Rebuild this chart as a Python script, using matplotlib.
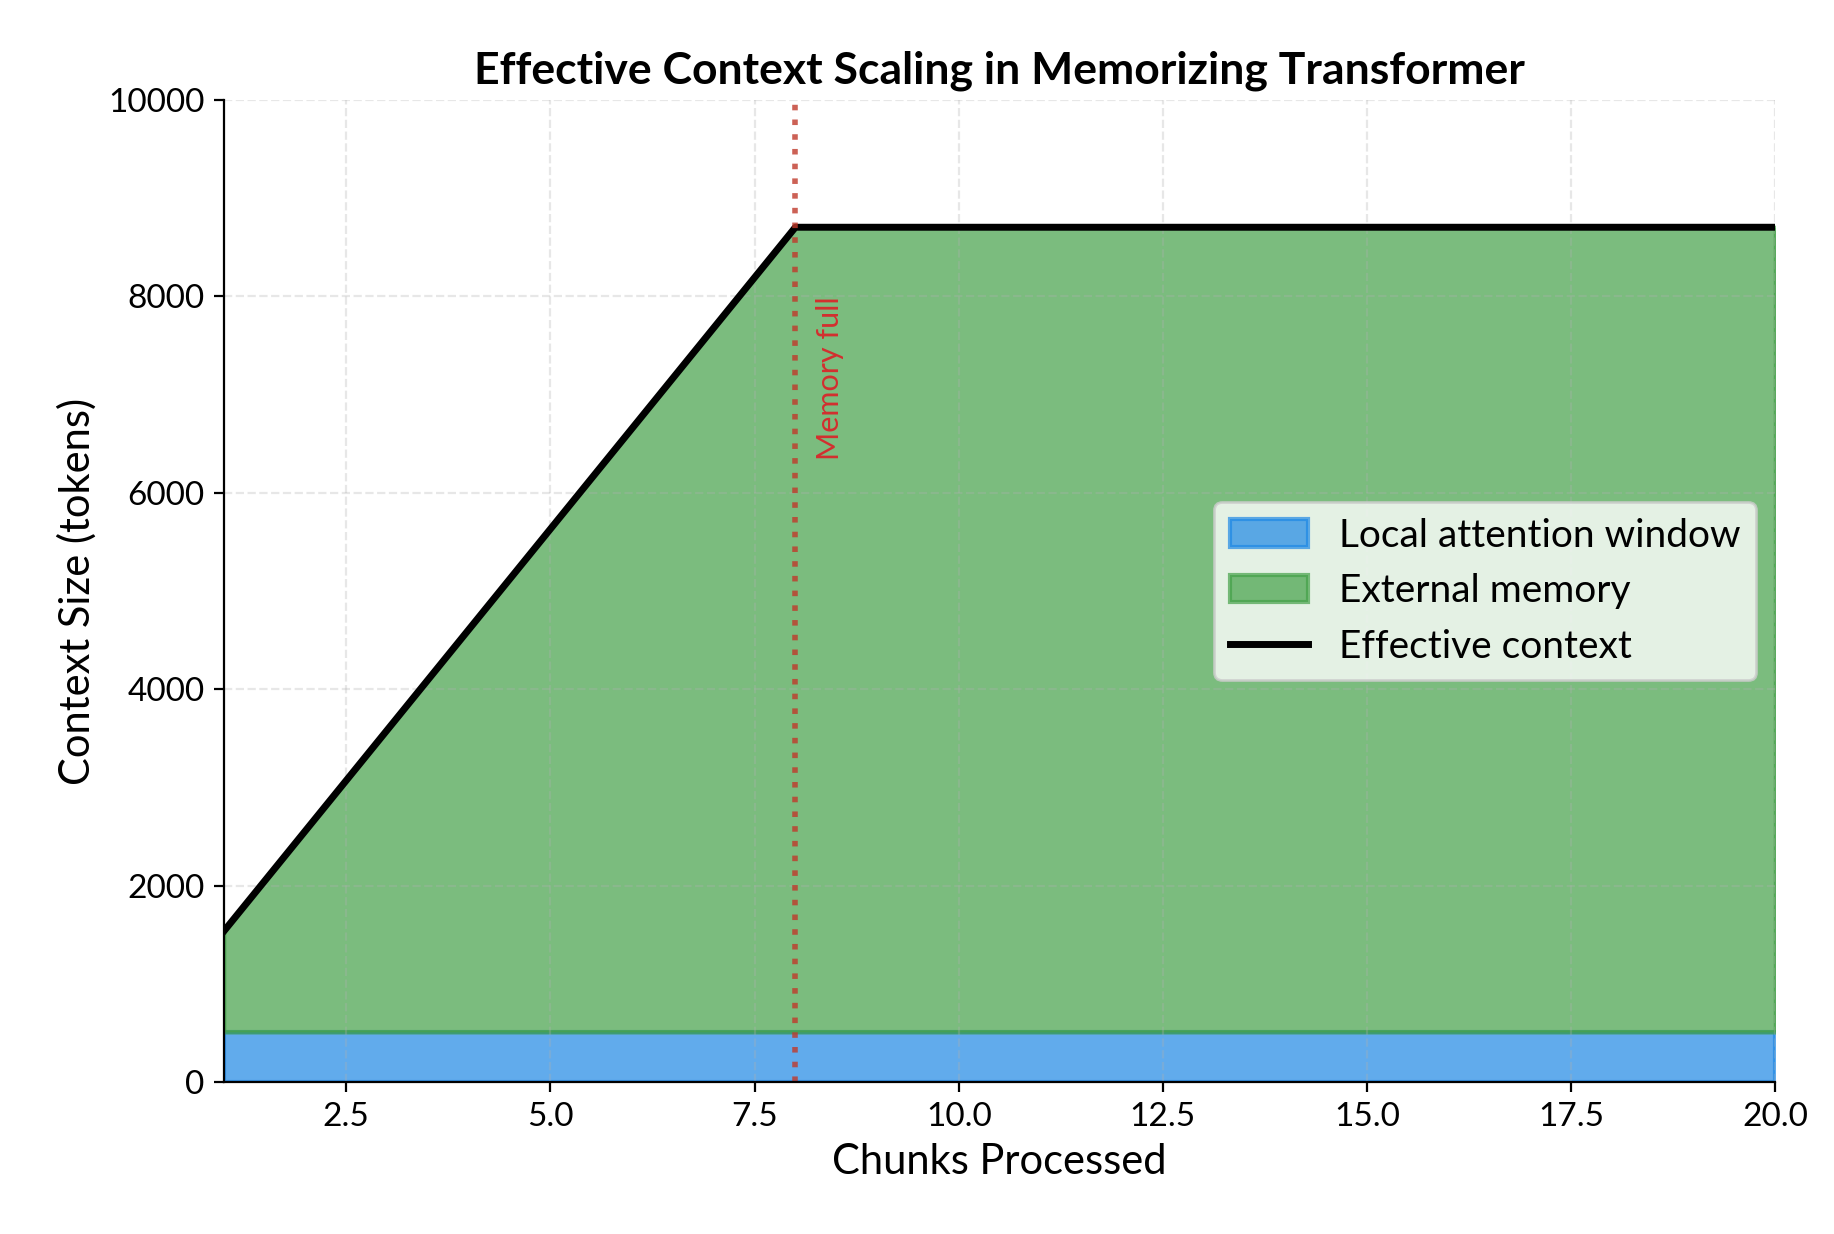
import matplotlib
matplotlib.use("Agg")
import matplotlib.pyplot as plt

chunks = [1, 2, 3, 4, 5, 6, 7, 8, 9, 10, 11, 12, 13, 14, 15, 16, 17, 18, 19, 20]
local_window = [512] * 20
memory = [1024, 2048, 3072, 4096, 5120, 6144, 7168, 8192, 8192, 8192, 8192, 8192,
          8192, 8192, 8192, 8192, 8192, 8192, 8192, 8192]
effective = [l + m for l, m in zip(local_window, memory)]
memory_full_x = 8

plt.rcParams['font.family'] = ['Lato', 'DejaVu Sans']
fig, ax = plt.subplots(figsize=(9.17, 6.17), dpi=200)
fig.subplots_adjust(left=0.122, right=0.968, top=0.919, bottom=0.123)

ax.fill_between(chunks, 0, local_window, color='#1e88e5', alpha=0.7,
                edgecolor='#1e88e5', linewidth=1.5, label='Local attention window')
ax.fill_between(chunks, local_window, effective, color='#43a047', alpha=0.7,
                edgecolor='#43a047', linewidth=1.5, label='External memory')
ax.plot(chunks, effective, color='black', linewidth=2.5, label='Effective context')
ax.axvline(memory_full_x, color='#c0392b', linestyle=':', linewidth=2, alpha=0.8)
ax.text(memory_full_x + 0.25, 8000, 'Memory full', rotation=90, color='#d32f2f',
        fontsize=11, va='top', ha='left')

ax.set_xlim(1, 20)
ax.set_ylim(0, 10000)
ax.set_xlabel('Chunks Processed', fontsize=15)
ax.set_ylabel('Context Size (tokens)', fontsize=15)
ax.set_title('Effective Context Scaling in Memorizing Transformer', fontsize=16, fontweight='bold')
ax.tick_params(labelsize=12)
ax.grid(True, linestyle='--', alpha=0.3)
ax.spines['top'].set_visible(False)
ax.spines['right'].set_visible(False)
ax.legend(loc='center right', fontsize=14)
fig.savefig('out.png', dpi=200)
